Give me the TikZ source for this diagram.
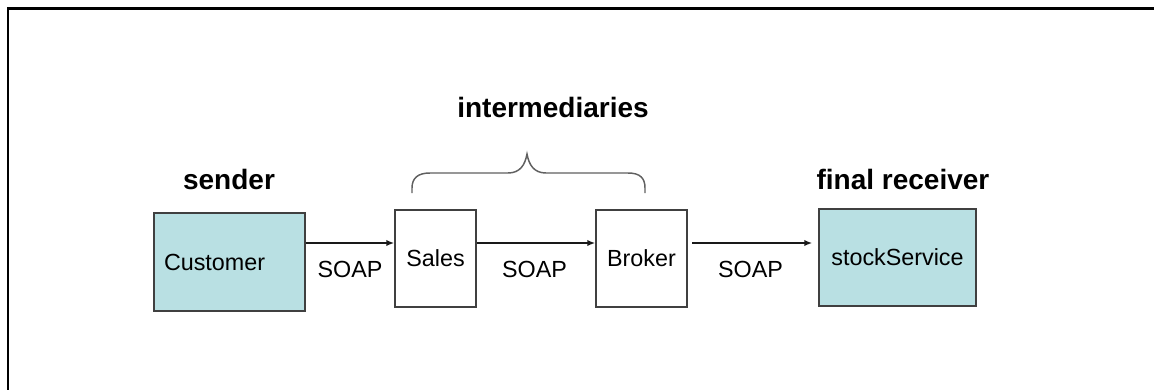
\documentclass[tikz,border=0pt]{standalone}
\usepackage{fontspec}
\setmainfont{Liberation Sans}
\usetikzlibrary{arrows.meta}
\definecolor{boxcyan}{RGB}{185,224,227}
\definecolor{boxline}{RGB}{64,64,64}
\definecolor{bracegray}{RGB}{96,96,96}
\tikzset{
  party/.style={draw=boxline, line width=1.1pt, rectangle, inner sep=0pt,
    font=\fontsize{17.5}{20}\selectfont},
  endpoint/.style={party, fill=boxcyan},
  middlebox/.style={party, fill=white},
  proto/.style={font=\fontsize{17.5}{20}\selectfont, inner sep=0pt, anchor=base},
  role/.style={font=\fontsize{21}{24}\selectfont\bfseries, inner sep=0pt, anchor=base},
  msg/.style={line width=1.3pt, black!90, -{Latex[length=6pt,width=4.8pt]}},
}
\begin{document}
\begin{tikzpicture}[x=0.75pt, y=-0.75pt]
  \useasboundingbox (0,0) rectangle (1154,390);
  % outer frame, open to the right and bottom
  \draw[line width=1.7pt, black] (1154,8.5) -- (8,8.5) -- (8,390);

  % message parties
  \node[endpoint, minimum width=113.25pt, minimum height=73.5pt,
        text width=98.25pt, align=left, inner xsep=7.5pt] (cust) at (229.5,262) {Customer};
  \node[middlebox, minimum width=60.75pt, minimum height=72.75pt] (sales) at (435.5,258.5) {Sales};
  \node[middlebox, minimum width=68.25pt, minimum height=72.75pt] (broker) at (641.5,258.5) {Broker};
  \node[endpoint, minimum width=117.75pt, minimum height=72.75pt] (stock) at (897.5,257.5) {stockService};

  % role headings
  \node[role] (sender) at (229,189) {sender};
  \node[role] (inter) at (553,117) {intermediaries};
  \node[role] (final) at (903,189) {final receiver};

  % brace over the intermediaries
  \draw[bracegray, line width=1.1pt]
    (412,193) -- (412,188) .. controls (412,178) and (418,173) .. (430,173)
    -- (508,173) .. controls (520,173) and (525,165) .. (527,154)
    .. controls (529,165) and (534,173) .. (546,173)
    -- (628,173) .. controls (640,173) and (645,178) .. (645,188) -- (645,193);

  % SOAP messages
  \coordinate (lane) at (0,243);
  \draw[msg] (cust.east |- lane) -- (sales.west |- lane);
  \draw[msg] (sales.east |- lane) -- (broker.west |- lane);
  \draw[msg] ([xshift=3.5pt]broker.east |- lane) -- ([xshift=-4.5pt]stock.west |- lane);

  \node[proto] (soap1) at (350,277) {SOAP};
  \node[proto] (soap2) at (534.5,277) {SOAP};
  \node[proto] (soap3) at (750.5,277) {SOAP};
\end{tikzpicture}
\end{document}
